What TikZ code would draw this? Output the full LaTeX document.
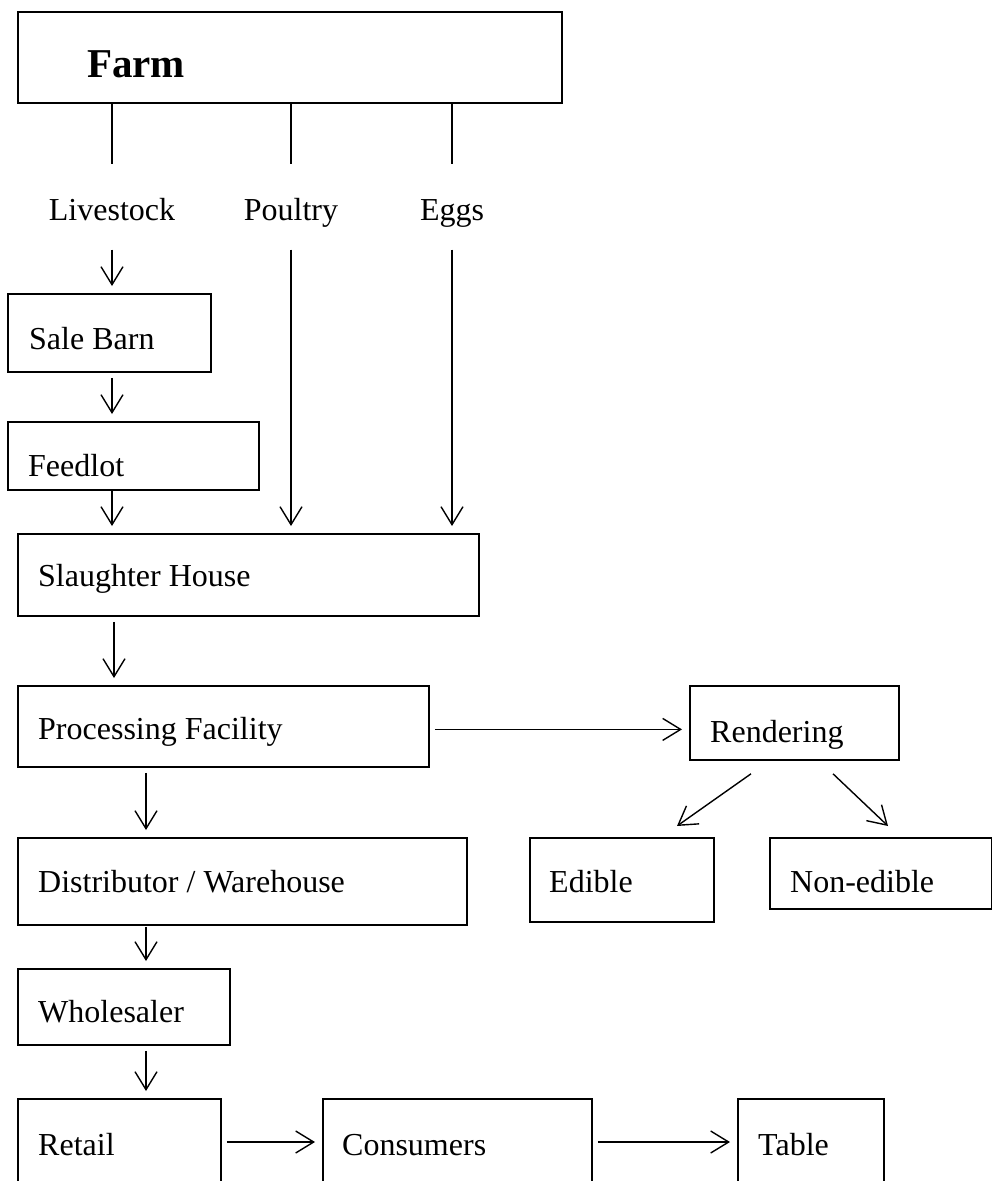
\documentclass[tikz,border=0pt]{standalone}
\usepackage{fontspec}
\setmainfont{Liberation Serif}
\usepackage{tikz}
\usetikzlibrary{arrows.meta,positioning}
\newcommand{\body}{\fontsize{32}{38}\selectfont}

\begin{document}
\begin{tikzpicture}[x=1pt,y=-1pt,
  box/.style={draw, line width=1.8pt, anchor=north west, inner sep=0pt},
  lbl/.style={anchor=base west, inner sep=0pt, font=\body},
  cat/.style={font=\body, inner sep=0pt, minimum height=85pt, text height=22pt, text depth=0pt},
  arr/.style={line width=1.4pt, -{Straight Barb[length=18pt,width=22pt,line width=1.4pt]}, shorten <=5pt, shorten >=7pt}]
\clip (0,0) rectangle (992,1181);

% boxes
\node[box, minimum width=544pt, minimum height=91pt] (farm) at (17,11) {};
\node[box, minimum width=203pt, minimum height=78pt] (salebarn) at (7,293) {};
\node[box, minimum width=251pt, minimum height=68pt] (feedlot) at (7,421) {};
\node[box, minimum width=461pt, minimum height=82pt] (slaughter) at (17,533) {};
\node[box, minimum width=411pt, minimum height=81pt] (processing) at (17,685) {};
\node[box, minimum width=209pt, minimum height=74pt] (rendering) at (689,685) {};
\node[box, minimum width=449pt, minimum height=87pt] (distributor) at (17,837) {};
\node[box, minimum width=184pt, minimum height=84pt] (edible) at (529,837) {};
\node[box, minimum width=222pt, minimum height=71pt] (nonedible) at (769,837) {};
\node[box, minimum width=212pt, minimum height=76pt] (wholesaler) at (17,968) {};
\node[box, minimum width=203pt, minimum height=150pt] (retail) at (17,1098) {};
\node[box, minimum width=269pt, minimum height=150pt] (consumers) at (322,1098) {};
\node[box, minimum width=146pt, minimum height=150pt] (table) at (737,1098) {};

% texts
\node[lbl, font=\fontsize{41}{48}\selectfont\bfseries] (farm-l) at (87,77) {Farm};
\node[lbl] (salebarn-l) at (29,349) {Sale Barn};
\node[lbl] (feedlot-l) at (28,476) {Feedlot};
\node[lbl] (slaughter-l) at (38,586) {Slaughter House};
\node[lbl] (processing-l) at (38,739) {Processing Facility};
\node[lbl] (rendering-l) at (710,742) {Rendering};
\node[lbl] (distributor-l) at (38,892) {Distributor / Warehouse};
\node[lbl] (edible-l) at (549,892) {Edible};
\node[lbl] (nonedible-l) at (790,892) {Non-edible};
\node[lbl] (wholesaler-l) at (38,1022) {Wholesaler};
\node[lbl] (retail-l) at (38,1155) {Retail};
\node[lbl] (consumers-l) at (342,1155) {Consumers};
\node[lbl] (table-l) at (758,1155) {Table};

% what the farm sends
\node[cat] (livestock) at (112,209) {Livestock};
\node[cat] (poultry) at (291,209) {Poultry};
\node[cat] (eggs) at (452,209) {Eggs};
\foreach \k in {livestock,poultry,eggs}
  \draw[line width=1.4pt] (\k.north |- farm.south) -- ([yshift=2pt]\k.north);

% arrows
\draw[arr, shorten <=0pt] ([yshift=2pt]livestock.south) -- (livestock.south |- salebarn.north);
\draw[arr, shorten <=0pt] ([yshift=2pt]poultry.south) -- (poultry.south |- slaughter.north);
\draw[arr, shorten <=0pt] ([yshift=2pt]eggs.south) -- (eggs.south |- slaughter.north);
\draw[arr] (livestock.south |- salebarn.south) -- (livestock.south |- feedlot.north);
\draw[arr, shorten <=0pt] (livestock.south |- feedlot.south) -- (livestock.south |- slaughter.north);
\draw[arr] ([xshift=97pt]slaughter.south west) -- ([xshift=97pt]processing.north west);
\draw[arr] ([yshift=-3pt]processing.east) -- ([yshift=-3pt]processing.east -| rendering.west);
\draw[arr] ([xshift=129pt]processing.south west) -- ([xshift=129pt]distributor.north west);
\draw[arr, shorten <=1pt] ([xshift=129pt]distributor.south west) -- ([xshift=129pt]wholesaler.north west);
\draw[arr] ([xshift=129pt]wholesaler.south west) -- ([xshift=129pt]retail.north west);
\draw[arr, shorten <=0pt, shorten >=0pt] ([xshift=62pt,yshift=-13pt]rendering.south west) -- ([xshift=148pt,yshift=11pt]edible.north west);
\draw[arr, shorten <=0pt, shorten >=0pt] ([xshift=144pt,yshift=-13pt]rendering.south west) -- ([xshift=119pt,yshift=11pt]nonedible.north west);
\draw[arr] ([yshift=-44pt]retail.north east) -- ([yshift=-44pt]consumers.north west);
\draw[arr] ([yshift=-44pt]consumers.north east) -- ([yshift=-44pt]table.north west);
\end{tikzpicture}
\end{document}
